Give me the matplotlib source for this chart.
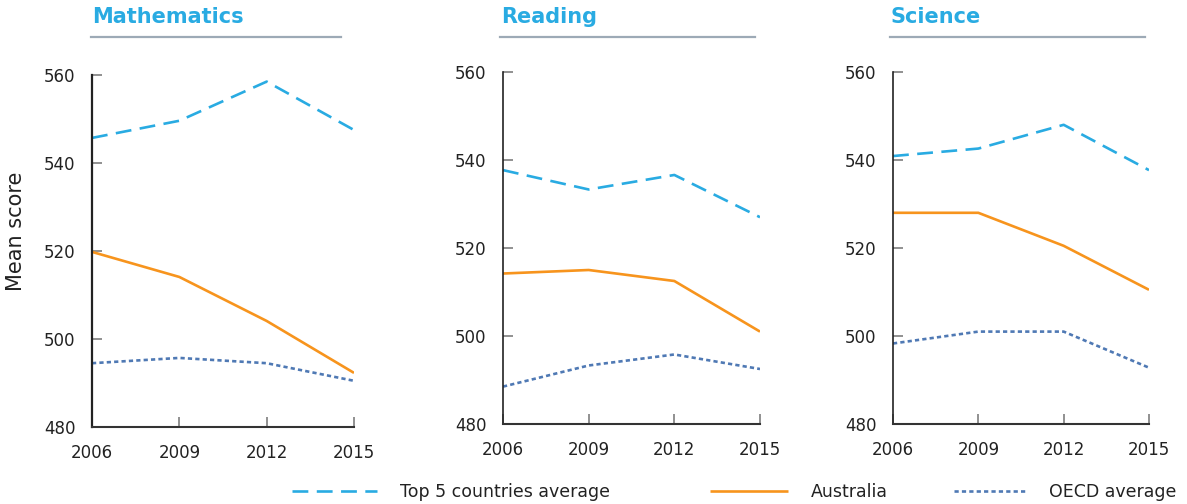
import matplotlib
matplotlib.use("Agg")
import matplotlib.pyplot as plt
from matplotlib.lines import Line2D

years = [2006, 2009, 2012, 2015]
subjects = ["Mathematics", "Reading", "Science"]
top5_math = [545.7, 549.6, 558.5, 547.5]
aus_math = [519.8, 514.1, 504.1, 492.3]
oecd_math = [494.5, 495.7, 494.5, 490.5]
top5_read = [537.7, 533.3, 536.6, 527.0]
aus_read = [514.2, 515.0, 512.5, 501.0]
oecd_read = [488.5, 493.3, 495.8, 492.5]
top5_sci = [540.9, 542.6, 548.0, 537.7]
aus_sci = [528.0, 528.0, 520.5, 510.5]
oecd_sci = [498.3, 501.0, 501.0, 492.8]
yticks = [480, 500, 520, 540, 560]
legend_labels = ["Top 5 countries average", "Australia", "OECD average"]

C_TOP = "#29ABE2"
C_AUS = "#F7941D"
C_OECD = "#4F79B4"
C_RULE = "#9DAAB6"

plt.rcParams['font.family'] = ['DejaVu Sans']

W, H = 1187, 504
fig = plt.figure(figsize=(W / 100, H / 100), dpi=100)

# panel geometry in pixels: (left, right, top, bottom)
geo = [(92, 354, 75, 427), (503, 760, 72, 424), (893, 1149, 72, 424)]
title_geo = [(92, 91, 341), (501, 500, 755), (890, 890, 1145)]
data = [(top5_math, aus_math, oecd_math), (top5_read, aus_read, oecd_read),
        (top5_sci, aus_sci, oecd_sci)]

handles = None
for i, (subj, (l, r, t, b), (tx, ul, ur), (tp, au, oe)) in enumerate(
        zip(subjects, geo, title_geo, data)):
    ax = fig.add_axes([l / W, 1 - b / H, (r - l) / W, (b - t) / H])
    h1, = ax.plot(years, tp, color=C_TOP, lw=1.9, dashes=(6, 3.2),
                  solid_capstyle='butt', dash_capstyle='butt')
    h2, = ax.plot(years, au, color=C_AUS, lw=1.9, solid_capstyle='butt')
    h3, = ax.plot(years, oe, color=C_OECD, lw=1.9, dashes=(1.6, 1.2),
                  dash_capstyle='butt')
    if handles is None:
        handles = [h1, h2, h3]
    ax.set_xlim(2006, 2015)
    ax.set_ylim(480, 560)
    ax.set_xticks(years)
    ax.set_yticks(yticks)
    ax.set_xticklabels([str(y) for y in years])
    ax.set_yticklabels([str(v) for v in yticks])
    for s in ("top", "right"):
        ax.spines[s].set_visible(False)
    sw = 1.6 if i == 0 else 1.2
    ax.spines["left"].set_color("#222222")
    ax.spines["bottom"].set_color("#333333")
    ax.spines["left"].set_linewidth(sw)
    ax.spines["bottom"].set_linewidth(1.5)
    ax.tick_params(axis='y', direction='in', length=7.5, width=1.3,
                   color='#888888', labelsize=12, pad=12, labelcolor='#222222')
    ax.tick_params(axis='x', direction='in', length=7.5, width=1.3,
                   color='#888888', labelsize=12, pad=12, labelcolor='#222222')
    if i == 0:
        ax.set_ylabel("Mean score", fontsize=15, color='#222222')
        ax.yaxis.set_label_coords(-66 / (r - l), 1 - (231 - t) / (b - t))
    fig.text(tx / W, 1 - 17 / H, subj, fontsize=15, fontweight='bold',
             color=C_TOP, ha='left', va='center')
    fig.add_artist(Line2D([ul / W, ur / W], [1 - 37 / H, 1 - 37 / H],
                          color=C_RULE, lw=1.6))

# legend, one entry at a time
leg_geo = [(292, 4.9), (710, 4.5), (954, 4.2)]
for hdl, lab, (x0, hl) in zip(handles, legend_labels, leg_geo):
    lg = fig.legend([hdl], [lab], loc='center left',
                    bbox_to_anchor=(x0 / W, 1 - 492 / H), frameon=False,
                    borderpad=0, borderaxespad=0, handlelength=hl,
                    handletextpad=1.3, fontsize=12.5)
    for txt in lg.get_texts():
        txt.set_color('#222222')

fig.savefig("out.png", dpi=100)
